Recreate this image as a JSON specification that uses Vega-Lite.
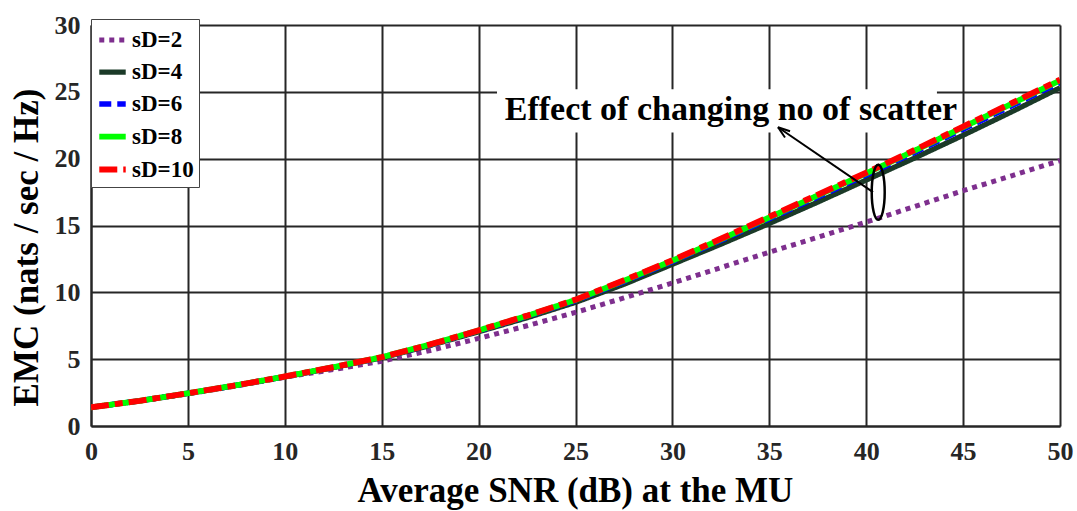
{
  "$schema": "https://vega.github.io/schema/vega-lite/v6.json",
  "width": 969,
  "height": 401,
  "autosize": "none",
  "padding": {"left": 91, "top": 25, "right": 17, "bottom": 85},
  "background": "white",
  "config": {
    "font": "Liberation Serif",
    "view": {"stroke": null},
    "axis": {
      "domainColor": "#262626", "domainWidth": 2,
      "gridColor": "#262626", "gridWidth": 2, "gridOpacity": 1,
      "tickSize": 0,
      "labelFont": "Liberation Serif", "labelFontSize": 26, "labelFontWeight": "bold", "labelColor": "#262626",
      "labelFlush": false, "labelOverlap": false,
      "titleFont": "Liberation Serif", "titleFontSize": 35, "titleFontWeight": "bold", "titleColor": "black"
    },
    "legend": {
      "orient": "none", "legendX": 0, "legendY": -6,
      "symbolType": "stroke", "symbolSize": 700,
      "labelFont": "Liberation Serif", "labelFontSize": 23, "labelFontWeight": "bold", "labelColor": "black",
      "fillColor": "white", "strokeColor": "#444444", "padding": 5, "rowPadding": 4, "labelOffset": 3
    }
  },
  "datasets": {
    "curves": [
      {"snr": 0, "emc": 1.4, "series": "sD=2"},
      {"snr": 2.5, "emc": 1.87, "series": "sD=2"},
      {"snr": 5, "emc": 2.4, "series": "sD=2"},
      {"snr": 7.5, "emc": 3.0, "series": "sD=2"},
      {"snr": 10, "emc": 3.65, "series": "sD=2"},
      {"snr": 12.5, "emc": 4.22, "series": "sD=2"},
      {"snr": 15, "emc": 4.85, "series": "sD=2"},
      {"snr": 17.5, "emc": 5.65, "series": "sD=2"},
      {"snr": 20, "emc": 6.55, "series": "sD=2"},
      {"snr": 22.5, "emc": 7.5, "series": "sD=2"},
      {"snr": 25, "emc": 8.5, "series": "sD=2"},
      {"snr": 27.5, "emc": 9.58, "series": "sD=2"},
      {"snr": 30, "emc": 10.7, "series": "sD=2"},
      {"snr": 32.5, "emc": 11.85, "series": "sD=2"},
      {"snr": 35, "emc": 13.0, "series": "sD=2"},
      {"snr": 37.5, "emc": 14.12, "series": "sD=2"},
      {"snr": 40, "emc": 15.25, "series": "sD=2"},
      {"snr": 42.5, "emc": 16.42, "series": "sD=2"},
      {"snr": 45, "emc": 17.6, "series": "sD=2"},
      {"snr": 47.5, "emc": 18.72, "series": "sD=2"},
      {"snr": 50, "emc": 19.85, "series": "sD=2"},

      {"snr": 0, "emc": 1.4, "series": "sD=4"},
      {"snr": 2.5, "emc": 1.88, "series": "sD=4"},
      {"snr": 5, "emc": 2.44, "series": "sD=4"},
      {"snr": 7.5, "emc": 3.04, "series": "sD=4"},
      {"snr": 10, "emc": 3.68, "series": "sD=4"},
      {"snr": 12.5, "emc": 4.37, "series": "sD=4"},
      {"snr": 15, "emc": 5.1, "series": "sD=4"},
      {"snr": 17.5, "emc": 6.03, "series": "sD=4"},
      {"snr": 20, "emc": 7.05, "series": "sD=4"},
      {"snr": 22.5, "emc": 8.1, "series": "sD=4"},
      {"snr": 25, "emc": 9.25, "series": "sD=4"},
      {"snr": 27.5, "emc": 10.6, "series": "sD=4"},
      {"snr": 30, "emc": 12.1, "series": "sD=4"},
      {"snr": 32.5, "emc": 13.6, "series": "sD=4"},
      {"snr": 35, "emc": 15.15, "series": "sD=4"},
      {"snr": 37.5, "emc": 16.75, "series": "sD=4"},
      {"snr": 40, "emc": 18.4, "series": "sD=4"},
      {"snr": 42.5, "emc": 20.05, "series": "sD=4"},
      {"snr": 45, "emc": 21.75, "series": "sD=4"},
      {"snr": 47.5, "emc": 23.5, "series": "sD=4"},
      {"snr": 50, "emc": 25.3, "series": "sD=4"},

      {"snr": 0, "emc": 1.4, "series": "sD=6"},
      {"snr": 2.5, "emc": 1.88, "series": "sD=6"},
      {"snr": 5, "emc": 2.45, "series": "sD=6"},
      {"snr": 7.5, "emc": 3.05, "series": "sD=6"},
      {"snr": 10, "emc": 3.69, "series": "sD=6"},
      {"snr": 12.5, "emc": 4.39, "series": "sD=6"},
      {"snr": 15, "emc": 5.13, "series": "sD=6"},
      {"snr": 17.5, "emc": 6.08, "series": "sD=6"},
      {"snr": 20, "emc": 7.12, "series": "sD=6"},
      {"snr": 22.5, "emc": 8.2, "series": "sD=6"},
      {"snr": 25, "emc": 9.38, "series": "sD=6"},
      {"snr": 27.5, "emc": 10.8, "series": "sD=6"},
      {"snr": 30, "emc": 12.3, "series": "sD=6"},
      {"snr": 32.5, "emc": 13.88, "series": "sD=6"},
      {"snr": 35, "emc": 15.5, "series": "sD=6"},
      {"snr": 37.5, "emc": 17.13, "series": "sD=6"},
      {"snr": 40, "emc": 18.78, "series": "sD=6"},
      {"snr": 42.5, "emc": 20.47, "series": "sD=6"},
      {"snr": 45, "emc": 22.2, "series": "sD=6"},
      {"snr": 47.5, "emc": 23.95, "series": "sD=6"},
      {"snr": 50, "emc": 25.7, "series": "sD=6"},

      {"snr": 0, "emc": 1.4, "series": "sD=8"},
      {"snr": 2.5, "emc": 1.88, "series": "sD=8"},
      {"snr": 5, "emc": 2.45, "series": "sD=8"},
      {"snr": 7.5, "emc": 3.05, "series": "sD=8"},
      {"snr": 10, "emc": 3.7, "series": "sD=8"},
      {"snr": 12.5, "emc": 4.4, "series": "sD=8"},
      {"snr": 15, "emc": 5.15, "series": "sD=8"},
      {"snr": 17.5, "emc": 6.1, "series": "sD=8"},
      {"snr": 20, "emc": 7.15, "series": "sD=8"},
      {"snr": 22.5, "emc": 8.24, "series": "sD=8"},
      {"snr": 25, "emc": 9.43, "series": "sD=8"},
      {"snr": 27.5, "emc": 10.87, "series": "sD=8"},
      {"snr": 30, "emc": 12.37, "series": "sD=8"},
      {"snr": 32.5, "emc": 13.96, "series": "sD=8"},
      {"snr": 35, "emc": 15.6, "series": "sD=8"},
      {"snr": 37.5, "emc": 17.25, "series": "sD=8"},
      {"snr": 40, "emc": 18.9, "series": "sD=8"},
      {"snr": 42.5, "emc": 20.6, "series": "sD=8"},
      {"snr": 45, "emc": 22.35, "series": "sD=8"},
      {"snr": 47.5, "emc": 24.1, "series": "sD=8"},
      {"snr": 50, "emc": 25.85, "series": "sD=8"},

      {"snr": 0, "emc": 1.4, "series": "sD=10"},
      {"snr": 2.5, "emc": 1.88, "series": "sD=10"},
      {"snr": 5, "emc": 2.45, "series": "sD=10"},
      {"snr": 7.5, "emc": 3.05, "series": "sD=10"},
      {"snr": 10, "emc": 3.7, "series": "sD=10"},
      {"snr": 12.5, "emc": 4.4, "series": "sD=10"},
      {"snr": 15, "emc": 5.15, "series": "sD=10"},
      {"snr": 17.5, "emc": 6.1, "series": "sD=10"},
      {"snr": 20, "emc": 7.15, "series": "sD=10"},
      {"snr": 22.5, "emc": 8.25, "series": "sD=10"},
      {"snr": 25, "emc": 9.45, "series": "sD=10"},
      {"snr": 27.5, "emc": 10.9, "series": "sD=10"},
      {"snr": 30, "emc": 12.4, "series": "sD=10"},
      {"snr": 32.5, "emc": 14.0, "series": "sD=10"},
      {"snr": 35, "emc": 15.65, "series": "sD=10"},
      {"snr": 37.5, "emc": 17.3, "series": "sD=10"},
      {"snr": 40, "emc": 18.95, "series": "sD=10"},
      {"snr": 42.5, "emc": 20.65, "series": "sD=10"},
      {"snr": 45, "emc": 22.4, "series": "sD=10"},
      {"snr": 47.5, "emc": 24.15, "series": "sD=10"},
      {"snr": 50, "emc": 25.9, "series": "sD=10"}
    ]
  },
  "layer": [
    {
      "data": {"values": [{"snr": 20.95, "snr2": 43.65, "emc": 21.95, "emc2": 25.2}]},
      "mark": {"type": "rect", "fill": "white", "stroke": null},
      "encoding": {
        "x": {"field": "snr", "type": "quantitative", "title": "Average SNR (dB) at the MU", "scale": {"domain": [0, 50], "nice": false}},
        "x2": {"field": "snr2"},
        "y": {"field": "emc", "type": "quantitative", "title": "EMC (nats / sec / Hz)", "scale": {"domain": [0, 30], "nice": false}},
        "y2": {"field": "emc2"}
      }
    },
    {
      "data": {"name": "curves"},
      "mark": {"type": "line", "strokeCap": "butt", "clip": true},
      "encoding": {
        "x": {"field": "snr", "type": "quantitative", "title": "Average SNR (dB) at the MU",
              "scale": {"domain": [0, 50], "nice": false},
              "axis": {"values": [0, 5, 10, 15, 20, 25, 30, 35, 40, 45, 50], "labelFontSize": 26, "labelPadding": 12, "titleX": 484, "titleY": 75, "titleBaseline": "alphabetic"}},
        "y": {"field": "emc", "type": "quantitative", "title": "EMC (nats / sec / Hz)",
              "scale": {"domain": [0, 30], "nice": false},
              "axis": {"values": [0, 5, 10, 15, 20, 25, 30], "labelFontSize": 26, "labelPadding": 11, "titleX": -54, "titleY": 222, "titleAngle": -90, "titleBaseline": "alphabetic", "titleAlign": "center"}},
        "color": {"field": "series", "type": "nominal", "title": null,
                  "scale": {"domain": ["sD=2", "sD=4", "sD=6", "sD=8", "sD=10"], "range": ["#7E2F8E", "#1B3A28", "#0000FF", "#00FF00", "#FF0000"]}},
        "strokeDash": {"field": "series", "type": "nominal", "title": null,
                  "scale": {"domain": ["sD=2", "sD=4", "sD=6", "sD=8", "sD=10"], "range": [[5, 5], [1, 0], [12, 6], [1, 0], [18, 6, 8, 6]]}},
        "strokeWidth": {"field": "series", "type": "nominal", "title": null,
                  "scale": {"domain": ["sD=2", "sD=4", "sD=6", "sD=8", "sD=10"], "range": [5, 6, 3, 4.5, 5]}}
      }
    },
    {
      "data": {"values": [{"snr": 33.02, "emc": 22.87, "label": "Effect of changing no of scatter"}]},
      "mark": {"type": "text", "font": "Liberation Serif", "fontSize": 34, "fontWeight": "bold", "align": "center", "baseline": "alphabetic", "color": "black"},
      "encoding": {
        "x": {"field": "snr", "type": "quantitative", "title": "Average SNR (dB) at the MU", "scale": {"domain": [0, 50], "nice": false}},
        "y": {"field": "emc", "type": "quantitative", "title": "EMC (nats / sec / Hz)", "scale": {"domain": [0, 30], "nice": false}},
        "text": {"field": "label"}
      }
    },
    {
      "data": {"values": [
        {"snr": 40.35, "emc": 17.5, "snr2": 35.45, "emc2": 22.35},
        {"snr": 35.45, "emc": 22.35, "snr2": 35.81, "emc2": 21.58},
        {"snr": 35.45, "emc": 22.35, "snr2": 36.07, "emc2": 22.05}
      ]},
      "mark": {"type": "rule", "color": "black", "strokeWidth": 2},
      "encoding": {
        "x": {"field": "snr", "type": "quantitative", "title": "Average SNR (dB) at the MU", "scale": {"domain": [0, 50], "nice": false}},
        "x2": {"field": "snr2"},
        "y": {"field": "emc", "type": "quantitative", "title": "EMC (nats / sec / Hz)", "scale": {"domain": [0, 30], "nice": false}},
        "y2": {"field": "emc2"}
      }
    },
    {
      "data": {"values": [{"snr": 40.62, "emc": 17.49}]},
      "mark": {"type": "point", "shape": "M0,-1A0.236,1,0,1,1,0,1A0.236,1,0,1,1,0,-1Z", "size": 3025, "filled": false, "color": "black", "strokeWidth": 2.5, "opacity": 1},
      "encoding": {
        "x": {"field": "snr", "type": "quantitative", "title": "Average SNR (dB) at the MU", "scale": {"domain": [0, 50], "nice": false}},
        "y": {"field": "emc", "type": "quantitative", "title": "EMC (nats / sec / Hz)", "scale": {"domain": [0, 30], "nice": false}}
      }
    }
  ]
}
